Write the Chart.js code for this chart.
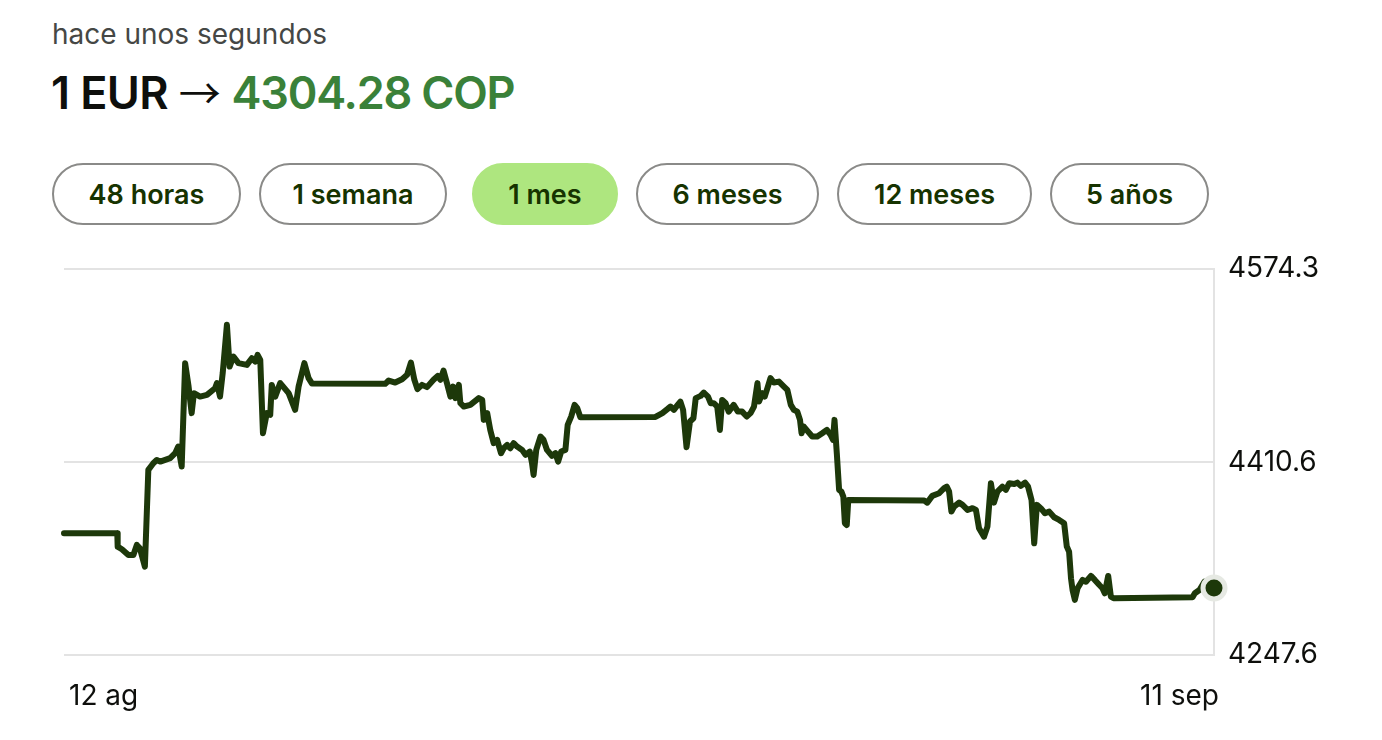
<!DOCTYPE html>
<html lang="es">
<head>
<meta charset="utf-8">
<title>EUR a COP</title>
<script src="https://cdn.jsdelivr.net/npm/chart.js@4.4.1/dist/chart.umd.min.js"></script>
<style>
  html, body { margin: 0; padding: 0; background: #fff; }
  body { width: 1382px; height: 740px; position: relative; overflow: hidden; font-family: Inter, "Noto Sans", sans-serif; }
  .updated { position: absolute; left: 52px; top: 17px; font-size: 28px; color: #454745; }
  .rate { position: absolute; left: 51px; top: 60px; font-size: 45px; font-weight: 600; color: #0e0f0c; letter-spacing: -0.6px; white-space: nowrap; }
  .rate .arrow { font-family: "Noto Sans CJK SC", sans-serif; font-weight: 400; font-size: 42px; letter-spacing: 0; }
  .rate .to { color: #3a8139; letter-spacing: -1.2px; }
  .ranges { position: absolute; left: 52px; top: 163px; display: flex; gap: 18px; }
  .ranges button { box-sizing: border-box; height: 62px; border-radius: 31px; border: 2px solid #8a8a88; background: #fff; font: 600 27px Inter, sans-serif; color: #163300; padding: 0; text-align: center; }
  .ranges button.active { background: #aee67f; border-color: #aee67f; margin-left: 7px; }
  #wrap { position: absolute; left: 0; top: 238px; width: 1382px; height: 482px; }
</style>
</head>
<body>
<div class="updated">hace unos segundos</div>
<div class="rate">1 EUR <span class="arrow">→</span> <span class="to">4304.28 COP</span></div>
<div class="ranges">
  <button style="width:189px">48 horas</button>
  <button style="width:188px">1 semana</button>
  <button class="active" style="width:146px">1 mes</button>
  <button style="width:183px">6 meses</button>
  <button style="width:195px">12 meses</button>
  <button style="width:159px">5 años</button>
</div>
<div id="wrap"><canvas id="chart"></canvas></div>

<script>
// days since 12 ag
const days = [
  0, 1.39, 1.40, 1.51, 1.68, 1.81, 1.90, 1.98, 2.11, 2.20,
  2.33, 2.42, 2.51, 2.77, 2.90, 2.98, 3.07, 3.16, 3.25, 3.33,
  3.39, 3.55, 3.73, 3.94, 3.99, 4.07, 4.14, 4.25, 4.32, 4.42,
  4.55, 4.77, 4.90, 4.99, 5.05, 5.12, 5.19, 5.29, 5.38, 5.42,
  5.51, 5.64, 5.86, 6.03, 6.12, 6.27, 6.38, 6.47,
  8.38, 8.47, 8.64, 8.82, 8.95, 9.05, 9.14, 9.22, 9.34, 9.47,
  9.64, 9.75, 9.82, 9.90, 9.99, 10.08, 10.15, 10.21, 10.30, 10.34,
  10.43, 10.60, 10.82, 10.91, 10.95, 11.04, 11.12, 11.21, 11.30, 11.40,
  11.47, 11.56, 11.64, 11.73, 11.82, 11.95, 12.04, 12.15, 12.21, 12.25,
  12.32, 12.43, 12.51, 12.60, 12.73, 12.82, 12.89, 12.97, 13.08, 13.14,
  13.23, 13.32, 13.39, 13.47,
  15.43, 15.61, 15.74, 15.82, 15.91, 16.01, 16.08, 16.15, 16.24, 16.33,
  16.42, 16.48, 16.61, 16.69, 16.80, 16.87, 16.95, 17.04, 17.11, 17.17,
  17.26, 17.34, 17.47, 17.58, 17.69, 17.81, 17.91, 18.00, 18.09, 18.13,
  18.22, 18.28, 18.35, 18.43, 18.52, 18.65, 18.78, 18.87, 18.96, 19.04,
  19.13, 19.20, 19.24, 19.30, 19.41, 19.52, 19.65, 19.78, 19.90, 20.00,
  20.06, 20.10, 20.16, 20.22, 20.28, 20.33, 20.37, 20.42, 20.46,
  22.44, 22.52, 22.65, 22.83, 22.96, 23.03, 23.09, 23.15, 23.22, 23.35,
  23.44, 23.57, 23.70, 23.79, 23.87, 24.00, 24.09, 24.18, 24.26, 24.35,
  24.48, 24.57, 24.66, 24.79, 24.87, 24.96, 25.07, 25.15, 25.24, 25.31,
  25.38, 25.48, 25.59, 25.70, 25.83, 25.96, 26.09, 26.16, 26.22, 26.27,
  26.31, 26.37, 26.44, 26.57, 26.66, 26.79, 26.89, 27.01, 27.09, 27.15,
  27.24, 27.31, 27.38,
  29.44, 29.50, 29.62, 29.75, 29.83, 30
];

// EUR -> COP
const rates = [
  4350.6, 4350.6, 4339.3, 4337.1, 4332.2, 4332.2, 4340.7, 4337.9, 4322.3, 4404.2,
  4409.8, 4412.6, 4411.2, 4414.1, 4418.3, 4423.9, 4407.0, 4494.5, 4474.7, 4452.2,
  4469.1, 4466.2, 4467.7, 4473.3, 4477.6, 4466.2, 4486.0, 4526.9, 4491.6, 4500.1,
  4494.5, 4493.0, 4498.7, 4495.8, 4501.5, 4497.3, 4435.2, 4452.2, 4450.7, 4476.1,
  4466.2, 4477.6, 4469.1, 4455.0, 4474.7, 4494.5, 4481.8, 4477.2,
  4477.0, 4479.8, 4478.1, 4480.9, 4484.6, 4495.0, 4480.4, 4472.5, 4476.1, 4474.2,
  4480.4, 4483.7, 4480.4, 4488.2, 4477.6, 4466.2, 4474.7, 4464.9, 4476.1, 4460.6,
  4457.8, 4459.2, 4464.9, 4463.4, 4446.5, 4452.2, 4438.0, 4426.8, 4429.6, 4418.3,
  4422.5, 4425.3, 4422.5, 4426.8, 4423.9, 4421.1, 4416.9, 4419.7, 4409.8, 4399.9,
  4421.1, 4432.4, 4429.6, 4421.1, 4416.0, 4418.3, 4411.2, 4419.7, 4421.1, 4442.3,
  4449.3, 4459.2, 4456.4, 4448.8,
  4449.0, 4452.2, 4455.6, 4457.8, 4455.0, 4459.2, 4462.0, 4455.0, 4423.4, 4445.1,
  4447.9, 4464.9, 4466.8, 4469.6, 4466.2, 4460.6, 4460.6, 4457.8, 4438.0, 4463.4,
  4460.6, 4453.5, 4459.2, 4453.5, 4453.5, 4449.3, 4452.2, 4457.8, 4477.6, 4462.0,
  4469.1, 4466.2, 4473.3, 4481.8, 4478.1, 4478.9, 4474.7, 4471.9, 4459.2, 4455.0,
  4453.5, 4446.5, 4435.2, 4440.8, 4436.6, 4432.4, 4432.4, 4435.2, 4438.0, 4433.8,
  4429.6, 4446.5, 4418.3, 4387.3, 4385.8, 4381.6, 4359.1, 4357.6, 4378.8,
  4378.2, 4376.5, 4382.2, 4384.5, 4388.7, 4390.0, 4385.8, 4368.9, 4373.1, 4376.5,
  4374.6, 4370.3, 4371.8, 4370.3, 4354.8, 4347.7, 4356.2, 4392.9, 4376.5, 4385.8,
  4390.0, 4387.3, 4392.9, 4392.3, 4393.4, 4390.6, 4393.4, 4390.0, 4378.8, 4342.1,
  4374.6, 4371.8, 4367.5, 4368.9, 4364.1, 4361.9, 4359.1, 4339.3, 4335.0, 4312.5,
  4302.6, 4294.2, 4304.1, 4311.1, 4309.6, 4314.5, 4311.1, 4306.8, 4304.1, 4299.8,
  4314.5, 4296.9, 4295.6,
  4296.4, 4299.8, 4302.6, 4309.6, 4308.3, 4304.28
];

const yTicks = [4247.6, 4410.6, 4574.3];
const xTicks = [0, 30];
const xLabels = ['12 ag', '11 sep'];

const lineColor = '#1d380a';
const gridColor = '#e3e3e3';
const textColor = '#0e0f0c';

const points = days.map((d, i) => ({ x: d, y: rates[i] }));
const last = points.length - 1;

new Chart(document.getElementById('chart'), {
  type: 'line',
  data: {
    datasets: [{
      data: points,
      borderColor: lineColor,
      borderWidth: 6,
      borderJoinStyle: 'round',
      borderCapStyle: 'round',
      tension: 0,
      clip: false,
      pointRadius: ctx => ctx.dataIndex === last ? 11 : 0,
      pointHoverRadius: ctx => ctx.dataIndex === last ? 11 : 0,
      pointBorderWidth: 5,
      pointBackgroundColor: lineColor,
      pointBorderColor: '#e6e9e3'
    }]
  },
  options: {
    responsive: true,
    maintainAspectRatio: false,
    animation: false,
    events: [],
    layout: { padding: { left: 64, top: 9, right: 0, bottom: 0 } },
    plugins: { legend: { display: false }, tooltip: { enabled: false } },
    scales: {
      x: {
        type: 'linear',
        min: 0,
        max: 30,
        afterBuildTicks: s => { s.ticks = xTicks.map(v => ({ value: v })); },
        afterFit: s => { s.height = 65; },
        grid: { display: false },
        border: { display: false },
        ticks: {
          autoSkip: false,
          maxRotation: 0,
          align: 'inner',
          labelOffset: 5,
          padding: 17,
          color: textColor,
          font: { family: 'Inter', size: 28 },
          callback: (v, i) => xLabels[i]
        }
      },
      y: {
        position: 'right',
        min: 4247.6,
        max: 4574.3,
        afterBuildTicks: s => { s.ticks = yTicks.map(v => ({ value: v })); },
        afterFit: s => { s.width = 168; },
        grid: { color: gridColor, lineWidth: 2, drawTicks: false },
        border: { display: true, color: gridColor, width: 2 },
        ticks: {
          padding: 14,
          color: textColor,
          font: { family: 'Inter', size: 28 },
          callback: v => v.toFixed(1)
        }
      }
    }
  }
});
</script>
</body>
</html>
